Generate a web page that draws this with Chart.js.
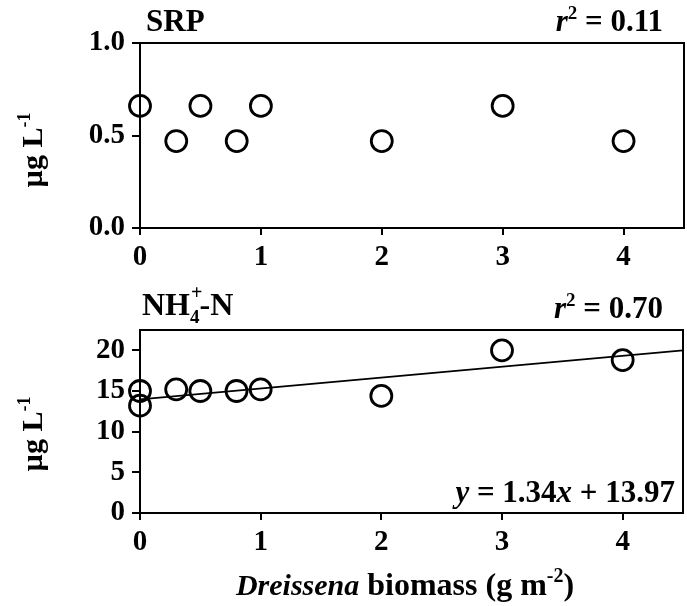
<!DOCTYPE html>
<html>
<head>
<meta charset="utf-8">
<script src="https://cdn.jsdelivr.net/npm/chart.js@4"></script>
<style>
  body { margin: 0; background: #fff; }
  #wrap { position: relative; width: 687px; height: 606px; }
  canvas { position: absolute; left: 0; }
  #srpChart { top: 0; }
  #nhChart { top: 280px; }
</style>
</head>
<body>
<div id="wrap">
  <canvas id="srpChart" width="687" height="280"></canvas>
  <canvas id="nhChart" width="687" height="326"></canvas>
</div>
<script>
// Dados
const srpBiomass = [0, 0.3, 0.5, 0.8, 1, 2, 3, 4];
const srpValues = [0.66, 0.47, 0.66, 0.47, 0.66, 0.47, 0.66, 0.47];

const nhBiomass = [0, 0, 0.3, 0.5, 0.8, 1, 2, 3, 4];
const nhValues = [15.0, 13.2, 15.2, 15.0, 15.0, 15.2, 14.4, 20.0, 18.8];

// Regressão mostrada no painel NH4+-N: y = 1.34x + 13.97
const fitSlope = 1.34;
const fitIntercept = 13.97;
const fitRange = [0, 4.5];

const xTicks = [0, 1, 2, 3, 4];
const srpTicks = [0, 0.5, 1];
const nhTicks = [0, 5, 10, 15, 20];

const FONT = '"Liberation Serif", "Times New Roman", serif';

function toPoints(xs, ys) {
    return xs.map((x, i) => ({ x: x, y: ys[i] }));
}

// Desenha texto com partes de estilos diferentes (itálico, sobrescrito...)
function drawRich(ctx, parts, x, y, align) {
    let total = 0;
    parts.forEach(p => {
        ctx.font = p.font;
        p.w = p.noAdvance ? 0 : ctx.measureText(p.t).width;
        total += p.w;
    });
    let cx = align === "right" ? x - total : align === "center" ? x - total / 2 : x;
    ctx.fillStyle = "#000";
    ctx.textBaseline = "alphabetic";
    ctx.textAlign = "left";
    parts.forEach(p => {
        ctx.font = p.font;
        ctx.fillText(p.t, cx + (p.dx || 0), y + (p.dy || 0));
        cx += p.w;
    });
}

const B = s => "bold " + s + "px " + FONT;
const BI = s => "italic bold " + s + "px " + FONT;

function framePlugin(drawText) {
    return {
        id: "frame",
        afterDraw(chart) {
            const ctx = chart.ctx;
            const a = chart.chartArea;
            ctx.save();
            ctx.strokeStyle = "#000";
            ctx.lineWidth = 2;
            ctx.strokeRect(a.left, a.top, a.right - a.left, a.bottom - a.top);
            drawText(ctx, chart);
            ctx.restore();
        }
    };
}

function yLabel(ctx, cx, cy) {
    ctx.save();
    ctx.translate(cx, cy);
    ctx.rotate(-Math.PI / 2);
    drawRich(ctx, [
        { t: "\u00b5g L", font: B(30) },
        { t: "-1", font: B(18), dy: -12 }
    ], 0, 10, "center");
    ctx.restore();
}

function makeOptions(yMin, yMax, yStep, yFmt, xAxisHeight, pad) {
    return {
        responsive: false,
        animation: false,
        layout: { padding: pad, autoPadding: false },
        plugins: { legend: { display: false }, tooltip: { enabled: false } },
        scales: {
            x: {
                type: "linear",
                min: 0,
                max: 4.5,
                afterFit: s => {
                    s.height = xAxisHeight;
                    s.paddingLeft = 0;
                    s.paddingRight = 0;
                },
                afterBuildTicks: s => { s.ticks = xTicks.map(v => ({ value: v })); },
                ticks: {
                    font: { family: FONT, size: 29, weight: "bold" },
                    color: "#000",
                    padding: 5,
                    maxRotation: 0
                },
                grid: { drawOnChartArea: false, drawTicks: true, tickLength: 7, color: "#000", lineWidth: 2 },
                border: { display: true, color: "#000", width: 2 }
            },
            y: {
                min: yMin,
                max: yMax,
                afterFit: s => {
                    s.width = 140;
                    s.paddingTop = 0;
                    s.paddingBottom = 0;
                },
                afterBuildTicks: s => { s.ticks = yStep.map(v => ({ value: v })); },
                ticks: {
                    font: { family: FONT, size: 29, weight: "bold" },
                    color: "#000",
                    padding: 7,
                    callback: yFmt
                },
                grid: { drawOnChartArea: false, drawTicks: true, tickLength: 8, color: "#000", lineWidth: 2 },
                border: { display: true, color: "#000", width: 2 }
            }
        }
    };
}

const pointStyle = {
    pointRadius: 10.5,
    pointBorderWidth: 2.8,
    pointBorderColor: "#000",
    pointBackgroundColor: "rgba(0,0,0,0)",
    clip: false
};

// Painel SRP
new Chart(document.getElementById("srpChart"), {
    type: "scatter",
    data: {
        datasets: [
            Object.assign({ label: "SRP", data: toPoints(srpBiomass, srpValues) }, pointStyle)
        ]
    },
    options: makeOptions(0, 1, srpTicks, v => v.toFixed(1), 52, { top: 43, right: 3, left: 0, bottom: 0 }),
    plugins: [framePlugin((ctx) => {
        drawRich(ctx, [{ t: "SRP", font: B(31) }], 146, 31, "left");
        drawRich(ctx, [
            { t: "r", font: BI(31) },
            { t: "2", font: B(19), dy: -12 },
            { t: " = 0.11", font: B(31) }
        ], 663, 31, "right");
        yLabel(ctx, 32, 150);
    })]
});

// Painel NH4+-N
new Chart(document.getElementById("nhChart"), {
    type: "scatter",
    data: {
        datasets: [
            Object.assign({ label: "NH4+-N", data: toPoints(nhBiomass, nhValues) }, pointStyle),
            {
                label: "ajuste",
                type: "scatter",
                showLine: true,
                data: fitRange.map(x => ({ x: x, y: fitSlope * x + fitIntercept })),
                borderColor: "#000",
                borderWidth: 1.6,
                pointRadius: 0,
                clip: false
            }
        ]
    },
    options: makeOptions(0, 22.5, nhTicks, v => String(v), 93, { top: 50, right: 4, left: 0, bottom: 0 }),
    plugins: [framePlugin((ctx) => {
        drawRich(ctx, [
            { t: "NH", font: B(32) },
            { t: "+", font: B(20), dy: -16, noAdvance: true, dx: 1 },
            { t: "4", font: B(19), dy: 8 },
            { t: "-N", font: B(32) }
        ], 142, 35, "left");
        drawRich(ctx, [
            { t: "r", font: BI(31) },
            { t: "2", font: B(19), dy: -12 },
            { t: " = 0.70", font: B(31) }
        ], 663, 38, "right");
        drawRich(ctx, [
            { t: "y", font: BI(31) },
            { t: " = 1.34", font: B(31) },
            { t: "x", font: BI(31) },
            { t: " + 13.97", font: B(31) }
        ], 675, 222, "right");
        yLabel(ctx, 32, 154);
        drawRich(ctx, [
            { t: "Dreissena", font: BI(30) },
            { t: " biomass (g m", font: B(32) },
            { t: "-2", font: B(20), dy: -13 },
            { t: ")", font: B(32) }
        ], 405, 315, "center");
    })]
});
</script>
</body>
</html>
